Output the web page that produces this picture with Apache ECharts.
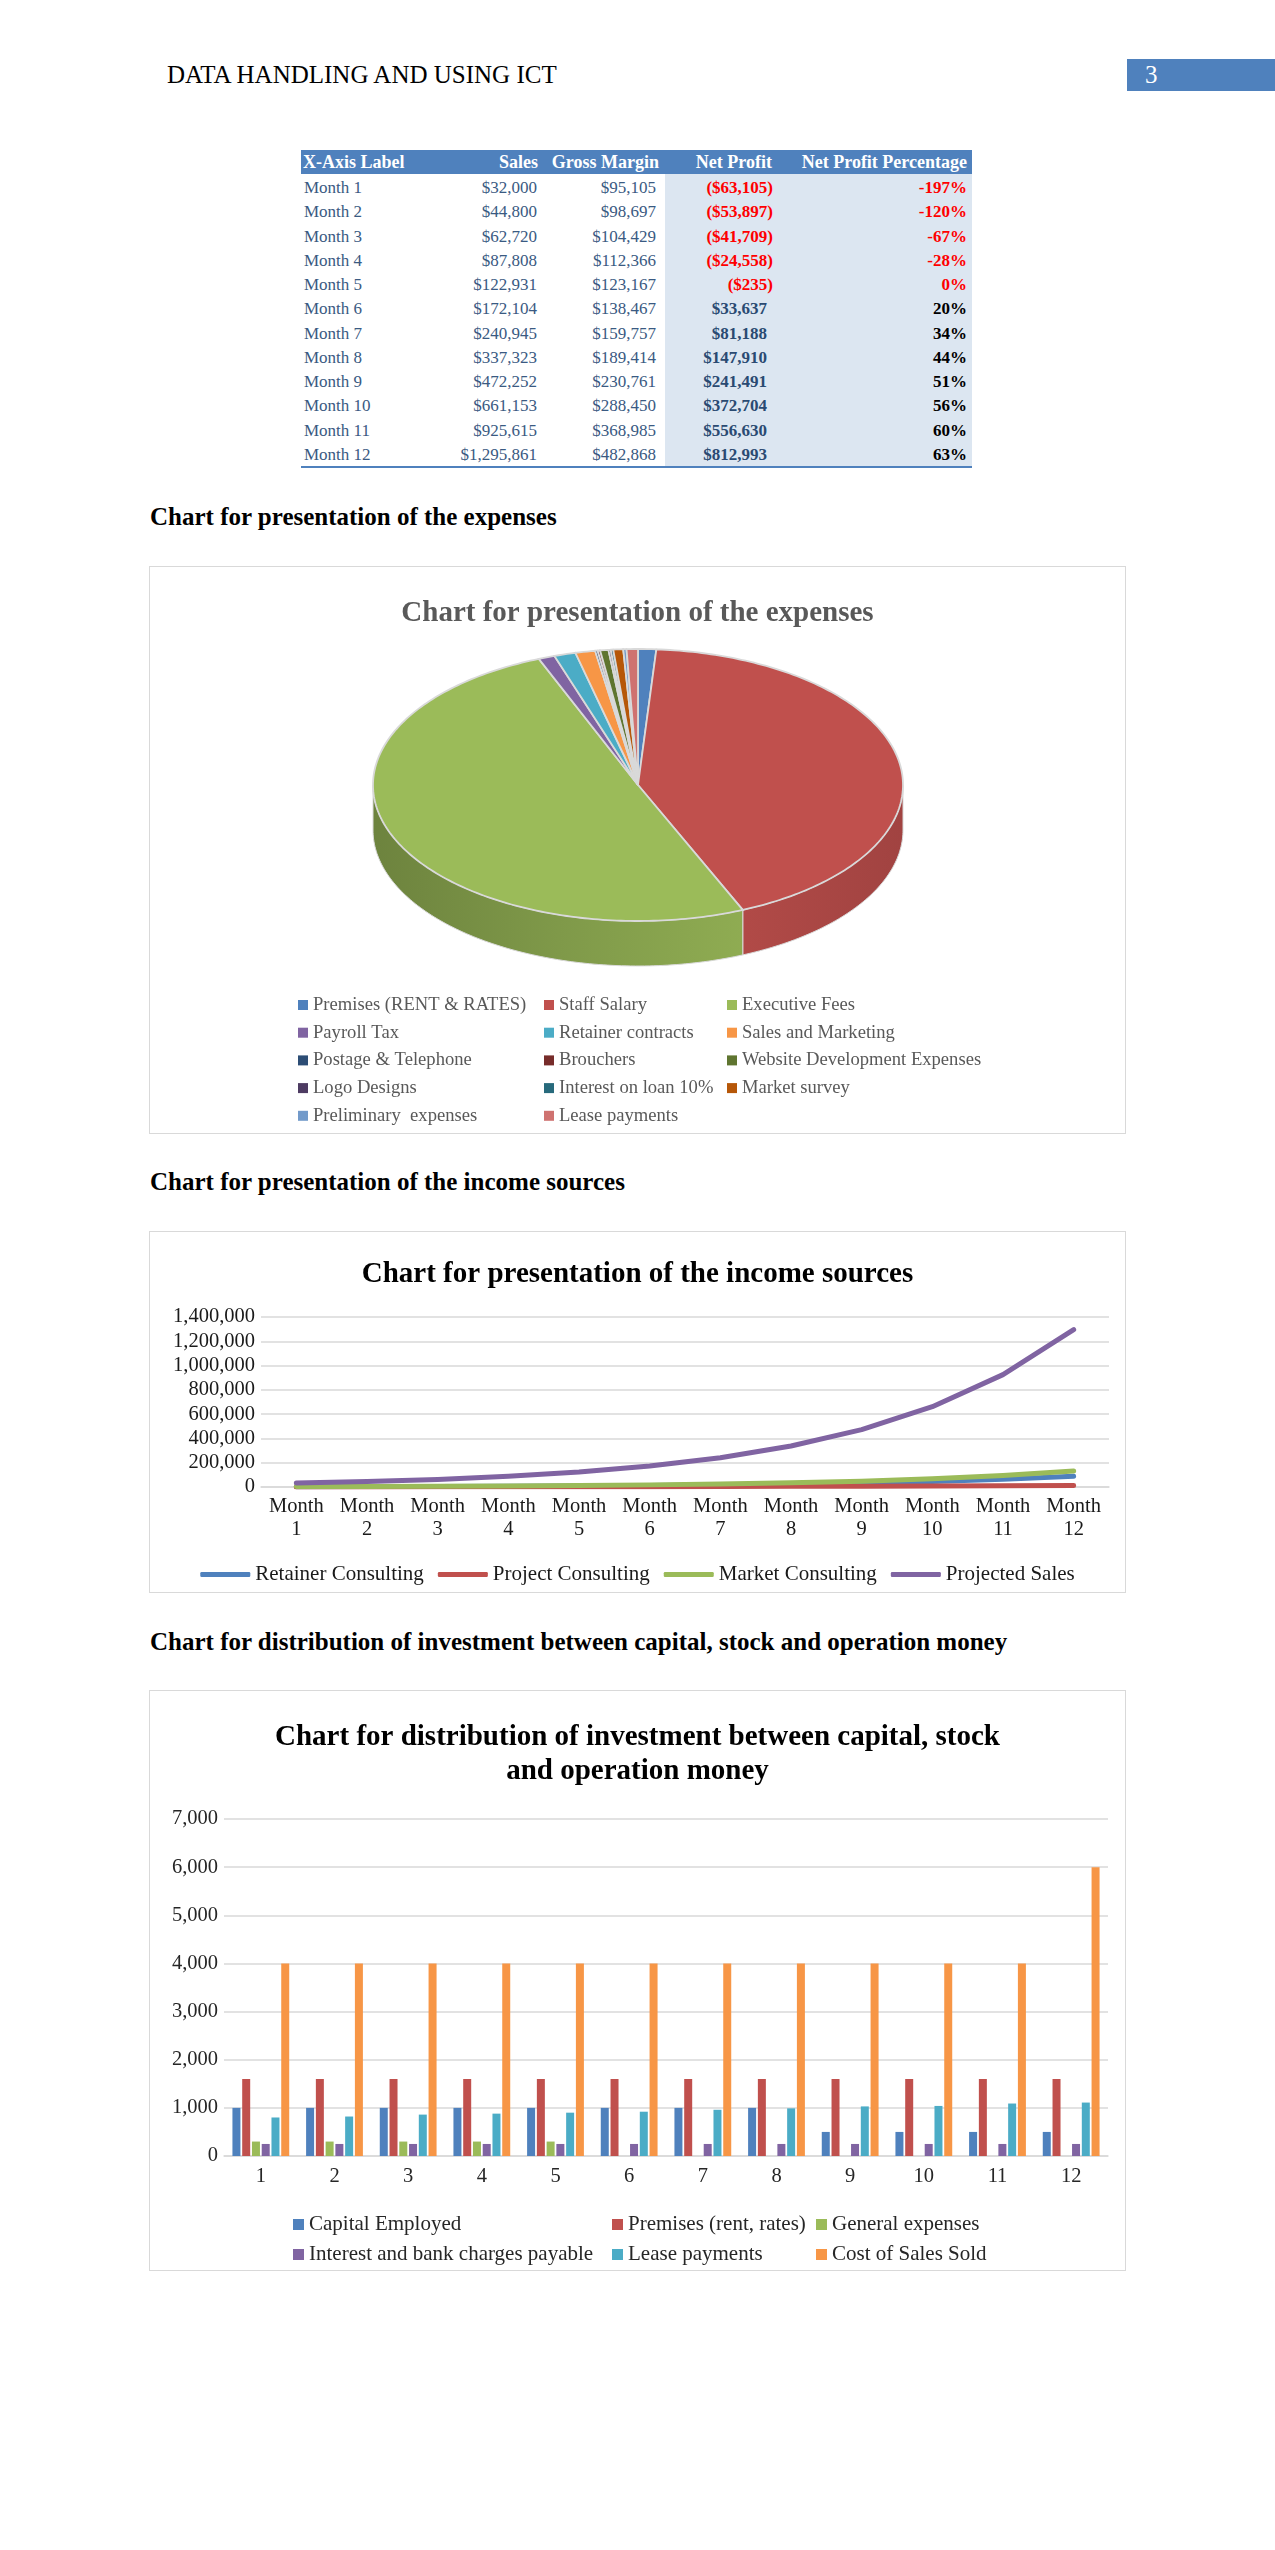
<!DOCTYPE html>
<html>
<head>
<meta charset="utf-8">
<title>Data handling and using ICT</title>
<script src="https://cdn.jsdelivr.net/npm/echarts@6.0.0/dist/echarts.min.js"></script>
<style>
  body { margin: 0; background: #fff; }
  #page { position: relative; width: 1275px; height: 2550px; overflow: hidden;
          font-family: "Liberation Serif", "Times New Roman", serif; color: #000; }
  .t { position: absolute; white-space: nowrap; }
  .chart { position: absolute; left: 150px; width: 975px; outline: 1px solid #d9d9d9; }
  .caption { font-weight: bold; font-size: 25px; line-height: 30px; left: 150px; }
</style>
</head>
<body>
<div id="page">
  <div class="t" style="left:167px;top:60px;font-size:25px;line-height:30px;">DATA HANDLING AND USING ICT</div>
  <div class="t" style="left:1127px;top:59px;width:148px;height:32px;background:#4f81bd;color:#fff;font-size:25px;line-height:32px;padding-left:18px;box-sizing:border-box;">3</div>
  <div id="table"></div>
  <div class="t caption" style="top:502px;">Chart for presentation of the expenses</div>
  <div id="pieChart" class="chart" style="top:567px;height:566px;"></div>
  <div class="t caption" style="top:1167px;">Chart for presentation of the income sources</div>
  <div id="lineChart" class="chart" style="top:1232px;height:360px;"></div>
  <div class="t caption" style="top:1627px;">Chart for distribution of investment between capital, stock and operation money</div>
  <div id="barChart" class="chart" style="top:1691px;height:579px;"></div>
</div>

<script>
const FONT = "Liberation Serif";

// table
const months = ["Month 1", "Month 2", "Month 3", "Month 4", "Month 5", "Month 6",
  "Month 7", "Month 8", "Month 9", "Month 10", "Month 11", "Month 12"];
const sales = [32000, 44800, 62720, 87808, 122931, 172104, 240945, 337323, 472252, 661153, 925615, 1295861];
const grossMargin = [95105, 98697, 104429, 112366, 123167, 138467, 159757, 189414, 230761, 288450, 368985, 482868];
const netProfit = [-63105, -53897, -41709, -24558, -235, 33637, 81188, 147910, 241491, 372704, 556630, 812993];
const netProfitPct = [-197, -120, -67, -28, 0, 20, 34, 44, 51, 56, 60, 63];

// pie
const expenseNames = ["Premises (RENT & RATES)", "Staff Salary", "Executive Fees", "Payroll Tax",
  "Retainer contracts", "Sales and Marketing", "Postage & Telephone", "Brouchers",
  "Website Development Expenses", "Logo Designs", "Interest on loan 10%", "Market survey",
  "Preliminary  expenses", "Lease payments"];
const expenseValues = [1600, 61500, 73000, 1450, 1900, 1750, 220, 220, 730, 200, 220, 870, 290, 1000];
const expenseColors = ["#4f81bd", "#c0504d", "#9bbb59", "#8064a2", "#4bacc6", "#f79646", "#2c4d75",
  "#772c2a", "#5f7530", "#4d3b62", "#276a7c", "#b65708", "#729aca", "#cf7270"];

// line
const retainerConsulting = [2200, 3100, 4300, 6000, 8500, 11800, 16600, 23200, 32500, 45500, 63700, 89000];
const projectConsulting = [600, 800, 1100, 1600, 2200, 3000, 4200, 5500, 7000, 8500, 10000, 12000];
const marketConsulting = [3200, 4500, 6400, 8900, 12500, 17500, 24500, 34300, 48000, 67200, 94100, 131700];
const projectedSales = [32000, 44800, 62720, 87808, 122931, 172104, 240945, 337323, 472252, 661153, 925615, 1295861];

// bars
const investMonths = ["1", "2", "3", "4", "5", "6", "7", "8", "9", "10", "11", "12"];
const capitalEmployed = [1000, 1000, 1000, 1000, 1000, 1000, 1000, 1000, 500, 500, 500, 500];
const premisesRent = [1600, 1600, 1600, 1600, 1600, 1600, 1600, 1600, 1600, 1600, 1600, 1600];
const generalExpenses = [300, 300, 300, 300, 300, 0, 0, 0, 0, 0, 0, 0];
const interestCharges = [250, 250, 250, 250, 250, 250, 250, 250, 250, 250, 250, 250];
const leasePayments = [800, 820, 860, 880, 900, 920, 960, 990, 1030, 1040, 1090, 1110];
const costOfSales = [4000, 4000, 4000, 4000, 4000, 4000, 4000, 4000, 4000, 4000, 4000, 6000];

// ---------- table (html) ----------
const tableEl = document.getElementById("table");
function put(text, x, y, h, align, css) {
  const d = document.createElement("div");
  d.className = "t";
  d.textContent = text;
  if (align === "right") {
    d.style.left = (x - 300) + "px";
    d.style.width = "300px";
    d.style.textAlign = "right";
  } else {
    d.style.left = x + "px";
  }
  d.style.top = y + "px";
  d.style.height = h + "px";
  d.style.lineHeight = h + "px";
  if (css) d.style.cssText += css;
  tableEl.appendChild(d);
}
function box(x, y, w, h, bg) {
  const d = document.createElement("div");
  d.className = "t";
  d.style.cssText += "left:" + x + "px;top:" + y + "px;width:" + w + "px;height:" + h + "px;background:" + bg + ";";
  tableEl.appendChild(d);
}
const money = v => "$" + Math.abs(v).toLocaleString("en-US");

box(301, 150, 671, 24, "#4f81bd");
box(665, 174, 307, 293, "#dce6f1");
box(301, 466, 671, 2, "#4f81bd");
const head = "color:#fff;font-weight:bold;font-size:18px;";
put("X-Axis Label", 303, 150, 24, "left", head);
put("Sales", 538, 150, 24, "right", head);
put("Gross Margin", 659, 150, 24, "right", head);
put("Net Profit", 772, 150, 24, "right", head);
put("Net Profit Percentage", 967, 150, 24, "right", head);

months.forEach((m, i) => {
  const y = 176 + 24.25 * i;
  const body = "color:#3a5a82;font-size:17px;";
  put(m, 304, y, 24, "left", body);
  put(money(sales[i]), 537, y, 24, "right", body);
  put(money(grossMargin[i]), 656, y, 24, "right", body);
  if (netProfit[i] < 0) {
    put("(" + money(netProfit[i]) + ")", 773, y, 24, "right", "color:#ff0000;font-weight:bold;font-size:17px;");
  } else {
    put(money(netProfit[i]), 767, y, 24, "right", "color:#2a4a72;font-weight:bold;font-size:17px;");
  }
  put(netProfitPct[i] + "%", 967, y, 24, "right",
    "font-weight:bold;font-size:17px;color:" + (netProfit[i] < 0 ? "#ff0000" : "#000") + ";");
});

// ---------- 3d pie (custom series, one per slice) ----------
const cx = 488, cy = 218, rx = 265, ry = 136, depth = 45;
const expenseTotal = expenseValues.reduce((a, b) => a + b, 0);

function rimPoint(a, dy) {
  return [cx + rx * Math.sin(a), cy - ry * Math.cos(a) + dy];
}
function rim(a0, a1, dy) {
  const n = Math.max(2, Math.ceil((a1 - a0) / (Math.PI / 180)));
  const pts = [];
  for (let k = 0; k <= n; k++) pts.push(rimPoint(a0 + (a1 - a0) * k / n, dy));
  return pts;
}
function shade(hex, f) {
  const n = parseInt(hex.slice(1), 16);
  const r = Math.round(((n >> 16) & 255) * f);
  const g = Math.round(((n >> 8) & 255) * f);
  const b = Math.round((n & 255) * f);
  return "rgb(" + r + "," + g + "," + b + ")";
}
function sideFill(hex) {
  return {
    type: "linear", x: cx - rx, y: 0, x2: cx + rx, y2: 0, global: true,
    colorStops: [
      { offset: 0, color: shade(hex, 0.7) },
      { offset: 0.35, color: shade(hex, 0.82) },
      { offset: 0.7, color: shade(hex, 0.92) },
      { offset: 1, color: shade(hex, 0.84) }
    ]
  };
}
function renderSlice(params, api) {
  const i = params.seriesIndex;
  let before = 0;
  for (let k = 0; k < i; k++) before += expenseValues[k];
  const a0 = before / expenseTotal * Math.PI * 2;
  const a1 = (before + api.value(0)) / expenseTotal * Math.PI * 2;
  const col = expenseColors[i];
  const children = [];
  const s0 = Math.max(a0, Math.PI / 2), s1 = Math.min(a1, Math.PI * 1.5);
  if (s1 > s0) {
    const side = rim(s0, s1, 0).concat(rim(s0, s1, depth).reverse());
    children.push({ type: "polygon", z2: 1, shape: { points: side },
      style: { fill: sideFill(col), stroke: "#d9d9d9", lineWidth: 1 } });
  }
  children.push({ type: "polygon", z2: 10, shape: { points: [[cx, cy]].concat(rim(a0, a1, 0)) },
    style: { fill: col, stroke: "#d9d9d9", lineWidth: 1.8 } });
  return { type: "group", children: children };
}
function pieLegend(left, idx) {
  return {
    orient: "vertical", left: left, top: 428, padding: 0, itemGap: 7.7,
    itemWidth: 10, itemHeight: 10, icon: "rect", selectedMode: false,
    data: idx.map(i => expenseNames[i]),
    textStyle: { fontFamily: FONT, fontSize: 18.6, color: "#595959", lineHeight: 20 }
  };
}

const pieChart = echarts.init(document.getElementById("pieChart"));
pieChart.setOption({
  animation: false,
  title: {
    text: "Chart for presentation of the expenses", left: "center", top: 30, padding: 0,
    textStyle: { fontFamily: FONT, fontSize: 29, fontWeight: "bold", color: "#595959", lineHeight: 34 }
  },
  legend: [pieLegend(148, [0, 3, 6, 9, 12]), pieLegend(394, [1, 4, 7, 10, 13]), pieLegend(577, [2, 5, 8, 11])],
  series: expenseNames.map((name, i) => ({
    name: name, type: "custom", coordinateSystem: "none",
    data: [expenseValues[i]], itemStyle: { color: expenseColors[i] },
    renderItem: renderSlice
  }))
});

// ---------- income line chart ----------
const axisText = { fontFamily: FONT, fontSize: 20.5, color: "#1a1a1a" };
const legendText = { fontFamily: FONT, fontSize: 21, color: "#1a1a1a", lineHeight: 23 };
const lineChart = echarts.init(document.getElementById("lineChart"));
function incomeLine(name, data, color) {
  return { name: name, type: "line", data: data, symbol: "none", smooth: false,
    itemStyle: { color: color }, lineStyle: { color: color, width: 5, cap: "round", join: "round" } };
}
lineChart.setOption({
  animation: false,
  title: {
    text: "Chart for presentation of the income sources", left: "center", top: 26, padding: 0,
    textStyle: { fontFamily: FONT, fontSize: 29, fontWeight: "bold", color: "#000", lineHeight: 34 }
  },
  grid: { left: 111, right: 16, top: 85, bottom: 105, outerBoundsMode: "none" },
  xAxis: {
    type: "category", data: months, boundaryGap: true,
    axisLine: { lineStyle: { color: "#d9d9d9", width: 1.5 } }, axisTick: { show: false },
    axisLabel: Object.assign({ interval: 0, margin: 8, lineHeight: 23, formatter: v => v.replace(" ", "\n") }, axisText)
  },
  yAxis: {
    type: "value", min: 0, max: 1400000, interval: 200000,
    axisLine: { show: false }, axisTick: { show: false },
    splitLine: { lineStyle: { color: "#d9d9d9", width: 1.5 } },
    axisLabel: Object.assign({ margin: 6, formatter: v => v.toLocaleString("en-US") }, axisText)
  },
  legend: {
    left: "center", top: 331, padding: 0, itemWidth: 50, itemHeight: 5, itemGap: 14,
    icon: "roundRect", selectedMode: false, textStyle: legendText
  },
  series: [
    incomeLine("Retainer Consulting", retainerConsulting, "#4f81bd"),
    incomeLine("Project Consulting", projectConsulting, "#c0504d"),
    incomeLine("Market Consulting", marketConsulting, "#9bbb59"),
    incomeLine("Projected Sales", projectedSales, "#8064a2")
  ]
});

// ---------- investment bar chart ----------
const barChart = echarts.init(document.getElementById("barChart"));
const barNames = ["Capital Employed", "Premises (rent, rates)", "General expenses",
  "Interest and bank charges payable", "Lease payments", "Cost of Sales Sold"];
const barData = [capitalEmployed, premisesRent, generalExpenses, interestCharges, leasePayments, costOfSales];
const barColors = ["#4f81bd", "#c0504d", "#9bbb59", "#8064a2", "#4bacc6", "#f79646"];
function barLegend(left, names) {
  return {
    orient: "vertical", left: left, top: 522, padding: 0, itemGap: 7,
    itemWidth: 11, itemHeight: 11, icon: "rect", selectedMode: false, data: names,
    textStyle: Object.assign({}, legendText, { color: "#262626" })
  };
}
barChart.setOption({
  animation: false,
  title: {
    text: "Chart for distribution of investment between capital, stock\nand operation money",
    left: "center", top: 30, padding: 0,
    textStyle: { fontFamily: FONT, fontSize: 29, fontWeight: "bold", color: "#000", lineHeight: 34 }
  },
  grid: { left: 74, right: 17, top: 128, bottom: 114, outerBoundsMode: "none" },
  xAxis: {
    type: "category", data: investMonths,
    axisLine: { lineStyle: { color: "#d9d9d9", width: 1.5 } }, axisTick: { show: false },
    axisLabel: Object.assign({ interval: 0, margin: 10 }, axisText, { color: "#262626" })
  },
  yAxis: {
    type: "value", min: 0, max: 7000, interval: 1000,
    axisLine: { show: false }, axisTick: { show: false },
    splitLine: { lineStyle: { color: "#d9d9d9", width: 1.5 } },
    axisLabel: Object.assign({ margin: 6, formatter: v => v.toLocaleString("en-US") }, axisText, { color: "#262626" })
  },
  legend: [
    barLegend(143, [barNames[0], barNames[3]]),
    barLegend(462, [barNames[1], barNames[4]]),
    barLegend(666, [barNames[2], barNames[5]])
  ],
  series: barNames.map((name, i) => ({
    name: name, type: "bar", data: barData[i], barWidth: 8, barGap: "22%",
    itemStyle: { color: barColors[i] }
  }))
});
</script>
</body>
</html>
